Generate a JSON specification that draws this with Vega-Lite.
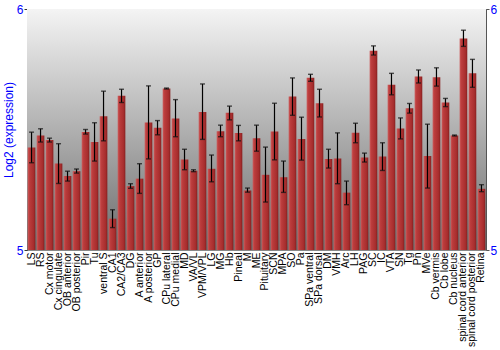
{
  "$schema": "https://vega.github.io/schema/vega-lite/v6.json",
  "width": 459,
  "height": 241,
  "autosize": "none",
  "padding": {"left": 27, "top": 9, "right": 14, "bottom": 100},
  "background": "white",
  "config": {
    "font": "Liberation Sans",
    "view": {"stroke": "#888888", "strokeWidth": 1}
  },
  "data": {"values": [
    {"region": "LS", "value": 5.425, "lo": 5.362, "hi": 5.489},
    {"region": "RS", "value": 5.475, "lo": 5.448, "hi": 5.503},
    {"region": "Cx motor", "value": 5.456, "lo": 5.448, "hi": 5.464},
    {"region": "Cx cingulate", "value": 5.359, "lo": 5.276, "hi": 5.441},
    {"region": "OB anterior", "value": 5.307, "lo": 5.286, "hi": 5.327},
    {"region": "OB posterior", "value": 5.327, "lo": 5.319, "hi": 5.336},
    {"region": "Pir", "value": 5.490, "lo": 5.481, "hi": 5.500},
    {"region": "Tu", "value": 5.448, "lo": 5.369, "hi": 5.528},
    {"region": "ventral S", "value": 5.555, "lo": 5.453, "hi": 5.659},
    {"region": "CA1", "value": 5.130, "lo": 5.093, "hi": 5.167},
    {"region": "CA2/CA3", "value": 5.640, "lo": 5.612, "hi": 5.667},
    {"region": "DG", "value": 5.265, "lo": 5.256, "hi": 5.275},
    {"region": "A anterior", "value": 5.296, "lo": 5.235, "hi": 5.358},
    {"region": "A posterior", "value": 5.529, "lo": 5.378, "hi": 5.681},
    {"region": "GP", "value": 5.507, "lo": 5.478, "hi": 5.537},
    {"region": "CPu lateral", "value": 5.670, "lo": 5.668, "hi": 5.672},
    {"region": "CPu medial", "value": 5.546, "lo": 5.470, "hi": 5.624},
    {"region": "MD", "value": 5.376, "lo": 5.333, "hi": 5.418},
    {"region": "VA/VL", "value": 5.329, "lo": 5.325, "hi": 5.333},
    {"region": "VPM/VPL", "value": 5.573, "lo": 5.459, "hi": 5.689},
    {"region": "LG", "value": 5.337, "lo": 5.283, "hi": 5.394},
    {"region": "MG", "value": 5.493, "lo": 5.470, "hi": 5.518},
    {"region": "Hb", "value": 5.569, "lo": 5.540, "hi": 5.597},
    {"region": "Pineal", "value": 5.485, "lo": 5.453, "hi": 5.517},
    {"region": "M", "value": 5.247, "lo": 5.240, "hi": 5.257},
    {"region": "ME", "value": 5.464, "lo": 5.410, "hi": 5.518},
    {"region": "Pituitary", "value": 5.312, "lo": 5.199, "hi": 5.427},
    {"region": "SCN", "value": 5.492, "lo": 5.374, "hi": 5.609},
    {"region": "MPA", "value": 5.302, "lo": 5.239, "hi": 5.369},
    {"region": "SO", "value": 5.637, "lo": 5.559, "hi": 5.714},
    {"region": "Pa", "value": 5.461, "lo": 5.373, "hi": 5.551},
    {"region": "SPa ventral", "value": 5.715, "lo": 5.700, "hi": 5.729},
    {"region": "SPa dorsal", "value": 5.609, "lo": 5.552, "hi": 5.667},
    {"region": "DM", "value": 5.378, "lo": 5.340, "hi": 5.418},
    {"region": "VMH", "value": 5.380, "lo": 5.275, "hi": 5.486},
    {"region": "Arc", "value": 5.238, "lo": 5.188, "hi": 5.286},
    {"region": "LH", "value": 5.486, "lo": 5.445, "hi": 5.526},
    {"region": "PAG", "value": 5.384, "lo": 5.365, "hi": 5.402},
    {"region": "SC", "value": 5.827, "lo": 5.809, "hi": 5.847},
    {"region": "IC", "value": 5.388, "lo": 5.330, "hi": 5.445},
    {"region": "VTA", "value": 5.686, "lo": 5.644, "hi": 5.733},
    {"region": "SN", "value": 5.504, "lo": 5.461, "hi": 5.548},
    {"region": "Tg", "value": 5.588, "lo": 5.568, "hi": 5.608},
    {"region": "Pn", "value": 5.720, "lo": 5.693, "hi": 5.747},
    {"region": "MVe", "value": 5.390, "lo": 5.257, "hi": 5.522},
    {"region": "Cb vermis", "value": 5.717, "lo": 5.680, "hi": 5.756},
    {"region": "Cb lobe", "value": 5.612, "lo": 5.595, "hi": 5.629},
    {"region": "Cb nucleus", "value": 5.475, "lo": 5.473, "hi": 5.477},
    {"region": "spinal cord anterior", "value": 5.878, "lo": 5.845, "hi": 5.912},
    {"region": "spinal cord posterior", "value": 5.733, "lo": 5.675, "hi": 5.791},
    {"region": "Retina", "value": 5.254, "lo": 5.242, "hi": 5.271}
  ]},
  "layer": [
    {
      "mark": {
        "type": "rect",
        "fill": {"gradient": "linear", "x1": 0, "y1": 0, "x2": 0, "y2": 1,
          "stops": [{"offset": 0, "color": "#f4f4f4"}, {"offset": 1, "color": "#6c6c6c"}]}
      },
      "encoding": {
        "y": {"datum": 6, "type": "quantitative", "axis": null},
        "y2": {"datum": 5}
      }
    },
    {
      "mark": {
        "type": "bar", "clip": true,
        "fill": {"gradient": "linear", "x1": 0, "y1": 0, "x2": 1, "y2": 0,
          "stops": [
            {"offset": 0, "color": "#cc5a5a"},
            {"offset": 0.25, "color": "#bb3c3c"},
            {"offset": 0.75, "color": "#a82e2e"},
            {"offset": 1, "color": "#872020"}
          ]}
      },
      "encoding": {
        "x": {
          "field": "region", "type": "nominal", "sort": null,
          "scale": {"paddingInner": 0.15, "paddingOuter": 0.08},
          "axis": {
            "title": null, "labelAngle": -90, "labelFontSize": 10.5, "labelColor": "#000000",
            "labelPadding": 2, "ticks": false, "domain": false, "labelFont": "Liberation Sans"
          }
        },
        "y": {
          "field": "value", "type": "quantitative",
          "scale": {"domain": [5, 6], "zero": false, "nice": false},
          "axis": {
            "orient": "left", "values": [5, 6], "format": "d", "title": "Log2 (expression)",
            "titleColor": "#0000ff", "titleFontSize": 12, "titleFontWeight": "normal",
            "titlePadding": 1, "labelColor": "#0000ff", "labelFontSize": 12,
            "labelPadding": 1, "tickSize": 3, "tickColor": "#333333",
            "domainColor": "#333333", "grid": false, "labelFlush": false
          }
        },
        "y2": {"datum": 5}
      }
    },
    {
      "mark": {"type": "rule", "color": "#000000", "strokeWidth": 1.2},
      "encoding": {
        "x": {"field": "region", "type": "nominal", "sort": null},
        "y": {
          "field": "lo", "type": "quantitative",
          "axis": {
            "orient": "right", "values": [5, 6], "format": "d", "title": null,
            "labelColor": "#0000ff", "labelFontSize": 12,
            "labelPadding": 1, "tickSize": 3, "tickColor": "#555555",
            "domainColor": "#555555", "grid": false, "labelFlush": false
          }
        },
        "y2": {"field": "hi"}
      }
    },
    {
      "mark": {"type": "tick", "color": "#111111", "size": 5, "thickness": 1.4},
      "encoding": {
        "x": {"field": "region", "type": "nominal", "sort": null},
        "y": {"field": "lo", "type": "quantitative", "axis": null}
      }
    },
    {
      "mark": {"type": "tick", "color": "#111111", "size": 5, "thickness": 1.4},
      "encoding": {
        "x": {"field": "region", "type": "nominal", "sort": null},
        "y": {"field": "hi", "type": "quantitative", "axis": null}
      }
    }
  ],
  "resolve": {"axis": {"y": "independent"}}
}
